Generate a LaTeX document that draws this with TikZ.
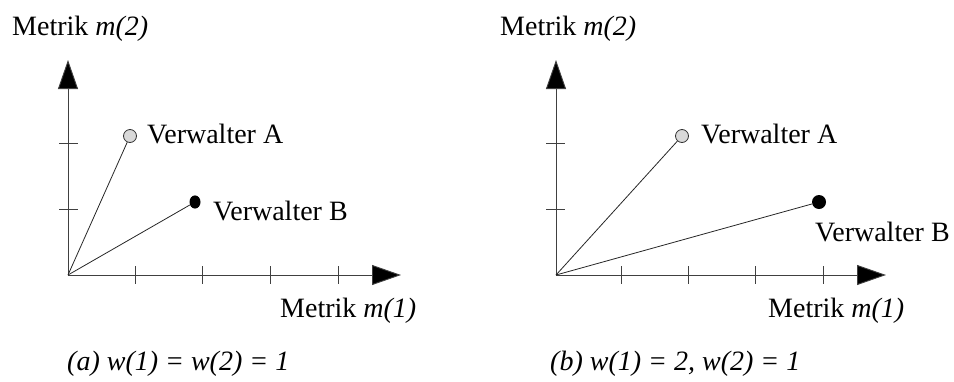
\documentclass[tikz,border=0pt]{standalone}
\usepackage{fontspec}
\setmainfont{Liberation Serif}
\usetikzlibrary{arrows.meta}
\begin{document}
\begin{tikzpicture}[x=1pt,y=-1pt,
  axis/.style={draw=black!75,line width=0.9pt,-{Triangle[length=29pt,width=20pt,fill=black]}},
  tickline/.style={draw=black!75,line width=0.9pt},
  ray/.style={draw=black!85,line width=0.8pt},
  lbl/.style={inner sep=0pt,anchor=base west,font=\fontsize{28}{32}\selectfont},
  ptA/.style={circle,draw=black!80,fill=black!15,line width=0.8pt,minimum size=13pt,inner sep=0pt},
  ptB/.style={circle,fill=black,inner sep=0pt,minimum size=11pt,yscale=1.2},
  ptBr/.style={circle,fill=black,inner sep=0pt,minimum size=14pt}]
\useasboundingbox (0,0) rectangle (954,381);
% ---------- left diagram ----------
\coordinate (O1) at (68,275);
\coordinate (Y1) at (68,60);
\coordinate (X1) at (401,275);
\draw[axis] (O1) -- (Y1);
\draw[axis] (O1) -- (X1);
\foreach \x in {135,202,270,338} \draw[tickline] (\x,266) -- (\x,284);
\foreach \y in {143,209} \draw[tickline] (59,\y) -- (78,\y);
\node[ptA] (A1) at (130,136) {};
\node[ptB] (B1) at (195,202) {};
\draw[ray] (O1) -- (A1);
\draw[ray] (O1) -- (B1);
\node[lbl] (LA1) at (147,143) {Verwalter A};
\node[lbl] (LB1) at (213,220) {Verwalter B};
\node[lbl] (M21) at (12,35) {Metrik \textit{m(2)}};
\node[lbl] (M11) at (280,317) {Metrik \textit{m(1)}};
\node[lbl] (C1) at (67,370) {\textit{(a) w(1) = w(2) = 1}};
% ---------- right diagram ----------
\coordinate (O2) at (556,275);
\coordinate (Y2) at (556,60);
\coordinate (X2) at (886,275);
\draw[axis] (O2) -- (Y2);
\draw[axis] (O2) -- (X2);
\foreach \x in {621,688,755,823} \draw[tickline] (\x,266) -- (\x,284);
\foreach \y in {143,209} \draw[tickline] (546,\y) -- (565,\y);
\node[ptA] (A2) at (682,136) {};
\node[ptBr] (B2) at (819,202) {};
\draw[ray] (O2) -- (A2);
\draw[ray] (O2) -- (B2);
\node[lbl] (LA2) at (701,143) {Verwalter A};
\node[lbl] (LB2) at (815,241) {Verwalter B};
\node[lbl] (M22) at (500,35) {Metrik \textit{m(2)}};
\node[lbl] (M12) at (768,317) {Metrik \textit{m(1)}};
\node[lbl] (C2) at (550,370) {\textit{(b) w(1) = 2, w(2) = 1}};
\end{tikzpicture}
\end{document}
